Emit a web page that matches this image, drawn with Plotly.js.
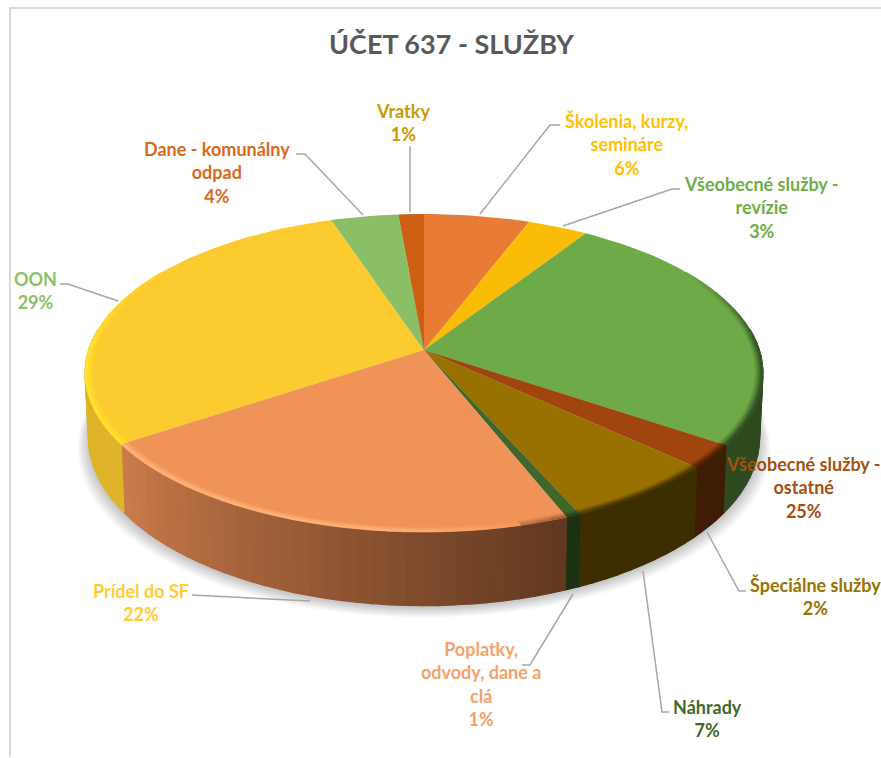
<!DOCTYPE html>
<html><head><meta charset="utf-8">
<script src="https://cdn.plot.ly/plotly-3.0.1.min.js"></script>
<style>html,body{margin:0;padding:0;background:#fff;overflow:hidden}#c{width:881px;height:758px}</style>
</head><body><div id="c"></div>
<script>
// ---- data ----
var chartTitle = "ÚČET 637 - SLUŽBY";
var categories = ["Školenia, kurzy,<br>semináre","Všeobecné služby -<br>revízie","Všeobecné služby -<br>ostatné","Špeciálne služby","Náhrady","Poplatky,<br>odvody, dane a<br>clá","Prídel do SF","OON","Dane - komunálny<br>odpad","Vratky"];
var shares = [5.8,3.3,25.4,2.4,6.5,0.6,21.6,29.3,3.7,1.4];
var percentLabels = ["6%","3%","25%","2%","7%","1%","22%","29%","4%","1%"];
var sliceColors = ["#E97C35","#FBBC05","#6EAB48","#A0450E","#997100","#41662A","#F09358","#FBCB30","#8ABF66","#CE5F12"];
var wallLeft  = ["#8A4A1E","#9A7404","#2F4A1F","#3F1D05","#3D2E00","#1B3112","#CC7C4B","#D8AE28","#5A8040","#7A390B"];
var wallRight = ["#8A4A1E","#9A7404","#2C4720","#3F1D05","#3D2E00","#1B3112","#60371F","#E0B42A","#5A8040","#7A390B"];
var labelColors = ["#FFC000","#70AD47","#A5500F","#997300","#43682B","#F4A26B","#FFCD33","#8CC168","#D9691C","#CC9A00"];
var labelX = [627,761,803,815,707,481,141,35,217,403];
var labelY = [144,207,487,596,718,684,602,290,172,122];
var leaderX = [[560,550,480],[680,672,563],[],[746,739,707],[669,662,643],[522,530,573],[192,310],[60,68,118],[296,305,363],[410,410]];
var leaderY = [[125,125,214],[189,189,226],[],[591,591,532],[712,712,571],[665,665,594],[595,601],[284,284,301],[154,154,215],[146,212]];

// ---- projection of the tilted disc into the plot's coordinates ----
var cx=424, cy=350, persp=0.1447, depthA=155.7, widthB=335.4, wallH=63, wallShrink=0.99;
function topPt(t,r){var c=Math.cos(t)*r,s=Math.sin(t)*r,p=1/(1+persp*c);return [cx+widthB*s*p, cy-depthA*c*p];}
function botPt(t){var c=Math.cos(t),s=Math.sin(t),p=1/(1+persp*c);return [cx+widthB*s*p*wallShrink, cy-depthA*c*p+wallH*p];}
function hex(h){return [parseInt(h.substr(1,2),16),parseInt(h.substr(3,2),16),parseInt(h.substr(5,2),16)];}
function mix(a,b,f){var A=hex(a),B=hex(b);return "rgb("+[0,1,2].map(function(i){return Math.round(A[i]+(B[i]-A[i])*f);}).join(",")+")";}
function poly(xs,ys,col,lw){return {type:"scatter",mode:"lines",x:xs,y:ys,fill:"toself",fillcolor:col,line:{color:col,width:lw||0},hoverinfo:"skip",showlegend:false};}

var traces=[];
// soft shadow under the body
for(var d=11;d>=1;d--){
  var xs=[],ys=[];
  for(var a=0;a<=360;a+=4){var t=a*Math.PI/180,b=botPt(t);xs.push(cx+(b[0]-cx)*(1+d/335));ys.push(b[1]+1.5+d*0.95);}
  traces.push(poly(xs,ys,"rgba(0,0,0,0.02)"));
}
// cumulative slice edges
var edges=[0];shares.forEach(function(v){edges.push(edges[edges.length-1]+v);});
var total=edges[edges.length-1];
function ang(v){return v/total*2*Math.PI;}
var STEP=2.5*Math.PI/180;
// side wall strips
shares.forEach(function(v,i){
  var a0=ang(edges[i]),a1=ang(edges[i+1]);
  var n=Math.max(1,Math.ceil((a1-a0)/STEP));
  for(var k=0;k<n;k++){
    var t0=a0+(a1-a0)*k/n,t1=a0+(a1-a0)*(k+1)/n,tm=(t0+t1)/2;
    if(Math.cos(tm)>0.12)continue;
    var A=topPt(t0,1),B=topPt(t1,1),C=botPt(t1),D=botPt(t0);
    var f=(k+0.5)/n, col=mix(wallRight[i],wallLeft[i],f);
    traces.push(poly([A[0],B[0],C[0],D[0],A[0]],[A[1],B[1],C[1],D[1],A[1]],col,1.2));
  }
});
// top face
shares.forEach(function(v,i){
  var a0=ang(edges[i]),a1=ang(edges[i+1]),xs=[cx],ys=[cy],n=Math.max(2,Math.ceil((a1-a0)/(STEP/1.5)));
  for(var k=0;k<=n;k++){var p=topPt(a0+(a1-a0)*k/n,1);xs.push(p[0]);ys.push(p[1]);}
  xs.push(cx);ys.push(cy);
  traces.push(poly(xs,ys,sliceColors[i],0));
});
// bevel along the rim: lit on the left, dark on the right
var bandR=[0.978,0.984,0.990,0.995,1.0];
var bandLit=[0.3,0.6,0.85,1.0];
var bandDark=[0.2,0.45,0.7,0.9];
var litTarget={6:"#FFB27A",7:"#FFE22A",8:"#B5E090",9:"#F08A3A"};
shares.forEach(function(v,i){
  var a0=ang(edges[i]),a1=ang(edges[i+1]),n=Math.max(1,Math.ceil((a1-a0)/STEP));
  for(var k=0;k<n;k++){
    var t0=a0+(a1-a0)*k/n,t1=a0+(a1-a0)*(k+1)/n,tm=(t0+t1)/2;
    var lit=Math.sin(tm-165*Math.PI/180);
    var fade=Math.max(0,Math.min(1,(0.55-Math.cos(tm))/0.5));
    if(fade<=0)continue;
    var base=sliceColors[i], isLit=lit>0;
    var target=isLit?(litTarget[i]||base):wallRight[i];
    var strength=isLit?Math.min(1,lit*2.2+0.25):Math.min(1,-lit*3+0.35);
    for(var b2=0;b2<4;b2++){
      var w=(isLit?bandLit[b2]:bandDark[b2])*strength*fade;
      var col=mix(base,target,w);
      var P=topPt(t0,bandR[b2]),Q=topPt(t1,bandR[b2]),R=topPt(t1,bandR[b2+1]),S=topPt(t0,bandR[b2+1]);
      traces.push(poly([P[0],Q[0],R[0],S[0],P[0]],[P[1],Q[1],R[1],S[1],P[1]],col,0.6));
    }
  }
});
// leader lines
leaderX.forEach(function(lx,i){
  if(!lx.length)return;
  traces.push({type:"scatter",mode:"lines",x:lx,y:leaderY[i],line:{color:"#A6A6A6",width:1.5},hoverinfo:"skip",showlegend:false});
});
// frame: left and top edges only
traces.push({type:"scatter",mode:"lines",x:[881,10,10],y:[8,8,757],line:{color:"#D9D9D9",width:2},hoverinfo:"skip",showlegend:false});

var annotations=categories.map(function(c,i){
  return {x:labelX[i],y:labelY[i],xref:"x",yref:"y",text:"<b>"+c+"<br>"+percentLabels[i]+"</b>",showarrow:false,xanchor:"center",yanchor:"middle",align:"center",
    font:{family:"Lato, 'Open Sans', sans-serif",size:18,color:labelColors[i]}};
});
annotations.push({x:451,y:43,xref:"x",yref:"y",text:"<b>"+chartTitle+"</b>",showarrow:false,xanchor:"center",yanchor:"middle",font:{family:"Lato, 'Open Sans', sans-serif",size:27,color:"#595959"}});

Plotly.newPlot("c",traces,{
  width:881,height:758,margin:{l:0,r:0,t:0,b:0},paper_bgcolor:"#fff",plot_bgcolor:"#fff",showlegend:false,
  xaxis:{range:[0,881],visible:false,fixedrange:true},
  yaxis:{range:[758,0],visible:false,fixedrange:true},
  annotations:annotations
},{displayModeBar:false,staticPlot:true});
</script></body></html>
